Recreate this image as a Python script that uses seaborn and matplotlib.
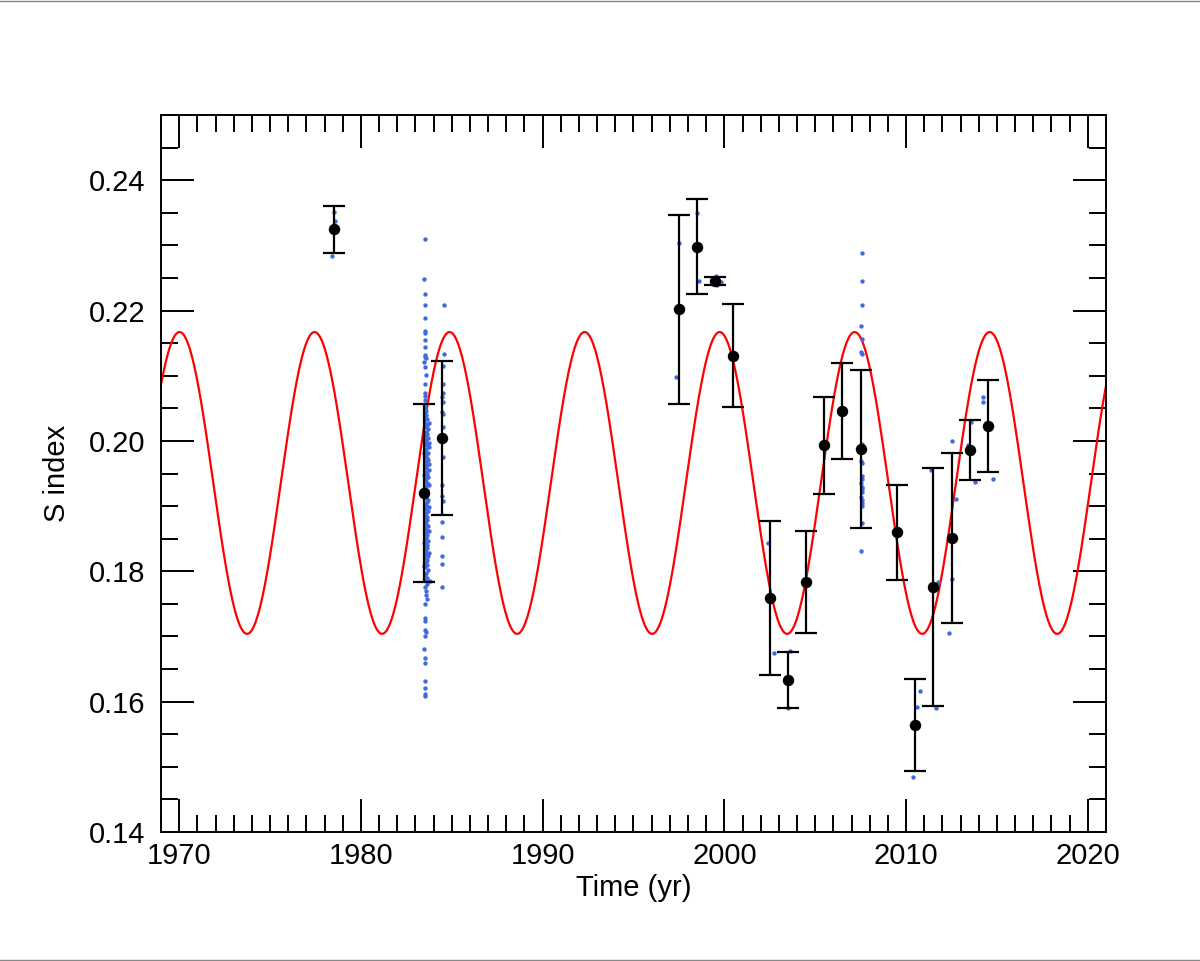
import numpy as np
import pandas as pd
import matplotlib
matplotlib.use("Agg")
import matplotlib.pyplot as plt
from matplotlib.ticker import MultipleLocator
from matplotlib.lines import Line2D
import seaborn as sns

# ---- binned means (black points with error bars) ----
bin_t = [1978.5, 1983.47, 1984.48, 1997.5, 1998.5, 1999.5, 2000.5, 2002.5, 2003.5,
         2004.5, 2005.5, 2006.5, 2007.5, 2009.5, 2010.5, 2011.5, 2012.5, 2013.5, 2014.5]
bin_s = [0.2325, 0.1920, 0.2004, 0.2202, 0.2298, 0.2245, 0.2131, 0.1759, 0.1633,
         0.1784, 0.1993, 0.2046, 0.1988, 0.1860, 0.1564, 0.1776, 0.1851, 0.1986, 0.2023]
bin_err = [0.0036, 0.01365, 0.0118, 0.0145, 0.0073, 0.00065, 0.0079, 0.0118, 0.00425,
           0.0078, 0.0074, 0.00735, 0.01215, 0.0073, 0.0070, 0.0183, 0.0130, 0.0046, 0.0071]

# ---- individual observations (blue dots) as (time, S) ----
obs_1978 = [(1978.50, 0.2351), (1978.55, 0.2338), (1978.43, 0.2283), (1978.49, 0.2325)]

obs_1983 = [
    (1983.52, 0.2309), (1983.48, 0.2248), (1983.51, 0.2226), (1983.51, 0.2209),
    (1983.53, 0.2188), (1983.55, 0.2169), (1983.54, 0.2166), (1983.54, 0.2155),
    (1983.50, 0.2144), (1983.50, 0.2132), (1983.54, 0.2129), (1983.58, 0.2127),
    (1983.49, 0.2121), (1983.52, 0.2114), (1983.58, 0.2101), (1983.51, 0.2088),
    (1983.55, 0.2073), (1983.50, 0.2069), (1983.52, 0.2063), (1983.54, 0.2052),
    (1983.60, 0.2046),
    (1983.58, 0.2040), (1983.52, 0.2036), (1983.66, 0.2033), (1983.55, 0.2028),
    (1983.61, 0.2025), (1983.50, 0.2021), (1983.70, 0.2018), (1983.57, 0.2014),
    (1983.63, 0.2011), (1983.53, 0.2007), (1983.68, 0.2004), (1983.59, 0.2001),
    (1983.51, 0.1998), (1983.64, 0.1996), (1983.56, 0.1993), (1983.72, 0.1990),
    (1983.60, 0.1987), (1983.54, 0.1985), (1983.67, 0.1982), (1983.58, 0.1979),
    (1983.50, 0.1977), (1983.62, 0.1974), (1983.69, 0.1971), (1983.55, 0.1969),
    (1983.60, 0.1966), (1983.65, 0.1963), (1983.52, 0.1961), (1983.58, 0.1958),
    (1983.74, 0.1955), (1983.56, 0.1953), (1983.63, 0.1950), (1983.51, 0.1947),
    (1983.67, 0.1945), (1983.59, 0.1942), (1983.54, 0.1939), (1983.61, 0.1936),
    (1983.70, 0.1934), (1983.57, 0.1931), (1983.52, 0.1928), (1983.64, 0.1925),
    (1983.58, 0.1923), (1983.66, 0.1920), (1983.53, 0.1917), (1983.60, 0.1914),
    (1983.56, 0.1912), (1983.68, 0.1909), (1983.62, 0.1906), (1983.50, 0.1903),
    (1983.58, 0.1901), (1983.64, 0.1898), (1983.55, 0.1895), (1983.71, 0.1892),
    (1983.60, 0.1889), (1983.53, 0.1887), (1983.66, 0.1884), (1983.57, 0.1881),
    (1983.62, 0.1878), (1983.51, 0.1875), (1983.59, 0.1873), (1983.68, 0.1870),
    (1983.55, 0.1867), (1983.63, 0.1864), (1983.58, 0.1861), (1983.52, 0.1858),
    (1983.66, 0.1856), (1983.60, 0.1853), (1983.56, 0.1850), (1983.70, 0.1847),
    (1983.54, 0.1844), (1983.62, 0.1841), (1983.58, 0.1838), (1983.65, 0.1835),
    (1983.51, 0.1832), (1983.60, 0.1829), (1983.56, 0.1826), (1983.67, 0.1823),
    (1983.53, 0.1820), (1983.61, 0.1817), (1983.58, 0.1813), (1983.64, 0.1810),
    (1983.55, 0.1806), (1983.69, 0.1802), (1983.59, 0.1798), (1983.52, 0.1794),
    (1983.63, 0.1790), (1983.57, 0.1786), (1983.66, 0.1781), (1983.54, 0.1776),
    (1983.60, 0.1770), (1983.56, 0.1764), (1983.62, 0.1757), (1983.53, 0.1750),
    (1983.75, 0.2027), (1983.48, 0.2009), (1983.73, 0.1997), (1983.47, 0.1981),
    (1983.76, 0.1964), (1983.49, 0.1948), (1983.74, 0.1932), (1983.47, 0.1915),
    (1983.77, 0.1899), (1983.50, 0.1880), (1983.72, 0.1862), (1983.48, 0.1843),
    (1983.75, 0.1828), (1983.49, 0.1808), (1983.80, 0.1785),
    (1983.52, 0.1728), (1983.55, 0.1723), (1983.51, 0.1710), (1983.58, 0.1707),
    (1983.51, 0.1701), (1983.49, 0.1680), (1983.52, 0.1667), (1983.55, 0.1660),
    (1983.52, 0.1632), (1983.52, 0.1621), (1983.55, 0.1611), (1983.52, 0.1608),
]

obs_1984 = [
    (1984.55, 0.2209), (1984.55, 0.2133), (1984.52, 0.2115), (1984.50, 0.2088),
    (1984.50, 0.2073), (1984.48, 0.2068), (1984.50, 0.2060), (1984.48, 0.2045),
    (1984.51, 0.2042), (1984.49, 0.2022), (1984.48, 0.2001), (1984.50, 0.1976),
    (1984.46, 0.1932), (1984.48, 0.1915), (1984.50, 0.1908), (1984.46, 0.1876),
    (1984.46, 0.1853), (1984.47, 0.1823), (1984.46, 0.1811), (1984.46, 0.1776),
]

obs_late = [
    (1997.51, 0.2304), (1997.35, 0.2098),
    (1998.47, 0.2350), (1998.60, 0.2246),
    (1999.52, 0.2253), (1999.80, 0.2244), (1999.58, 0.2239),
    (2000.52, 0.2131),
    (2002.40, 0.1843), (2002.75, 0.1675),
    (2003.60, 0.1677), (2003.48, 0.1591), (2003.50, 0.1633),
    (2004.52, 0.1784),
    (2005.52, 0.1993),
    (2006.60, 0.2046),
    (2007.55, 0.2288), (2007.55, 0.2246), (2007.55, 0.2209), (2007.50, 0.2176),
    (2007.57, 0.2157), (2007.52, 0.2136), (2007.55, 0.2134), (2007.55, 0.1995),
    (2007.60, 0.1987), (2007.52, 0.1969), (2007.58, 0.1966), (2007.55, 0.1946),
    (2007.60, 0.1941), (2007.52, 0.1936), (2007.58, 0.1930), (2007.55, 0.1926),
    (2007.60, 0.1921), (2007.52, 0.1914), (2007.58, 0.1909), (2007.55, 0.1904),
    (2007.60, 0.1900), (2007.55, 0.1874), (2007.52, 0.1831),
    (2009.55, 0.1860),
    (2010.74, 0.1616), (2010.59, 0.1592), (2010.39, 0.1484),
    (2011.39, 0.1955), (2011.78, 0.1783), (2011.65, 0.1590),
    (2012.54, 0.2000), (2012.72, 0.1911), (2012.54, 0.1788), (2012.35, 0.1706),
    (2013.55, 0.2029), (2013.39, 0.1993), (2013.77, 0.1937),
    (2014.25, 0.2068), (2014.25, 0.2059), (2014.80, 0.1941),
]

# ---- sinusoidal cycle fit (model parameters) ----
cycle_period = 7.43      # yr
cycle_peak_t = 1999.74   # time of a maximum
cycle_mean = 0.19355
cycle_amp = 0.02315

x_limits = (1969.0, 2021.0)
y_limits = (0.14, 0.25)

# ---------------------------------------------------------------
sns.set_theme(style="white")
plt.rcParams["font.family"] = ["Liberation Sans", "DejaVu Sans"]
plt.rcParams["text.color"] = "black"
plt.rcParams["axes.labelcolor"] = "black"
plt.rcParams["xtick.color"] = "black"
plt.rcParams["ytick.color"] = "black"

fig = plt.figure(figsize=(12.0, 9.61), dpi=100)
ax = fig.add_axes([161 / 1200, 1 - 832 / 961, (1106 - 161) / 1200, (832 - 115) / 961])

obs_df = pd.DataFrame(obs_1978 + obs_1983 + obs_1984 + obs_late, columns=["t", "s"])
bins_df = pd.DataFrame({"t": bin_t, "s": bin_s, "err": bin_err})

t_model = np.linspace(x_limits[0], x_limits[1], 2000)
model_df = pd.DataFrame({
    "t": t_model,
    "s": cycle_mean + cycle_amp * np.cos(2 * np.pi * (t_model - cycle_peak_t) / cycle_period),
})

sns.lineplot(data=model_df, x="t", y="s", ax=ax, color="#ff0000", lw=1.6, zorder=2)

sns.scatterplot(data=obs_df, x="t", y="s", ax=ax, color="#4169e1", s=10,
                linewidth=0, zorder=3)

ax.errorbar(bins_df["t"], bins_df["s"], yerr=bins_df["err"], fmt="none",
            ecolor="black", elinewidth=1.6, capsize=8, capthick=1.6, zorder=4)

sns.scatterplot(data=bins_df, x="t", y="s", ax=ax, color="black", s=68,
                linewidth=0, zorder=5)

ax.set_xlim(*x_limits)
ax.set_ylim(*y_limits)

ax.xaxis.set_major_locator(MultipleLocator(10))
ax.xaxis.set_minor_locator(MultipleLocator(1))
ax.yaxis.set_major_locator(MultipleLocator(0.02))
ax.yaxis.set_minor_locator(MultipleLocator(0.005))
ax.yaxis.set_major_formatter(matplotlib.ticker.FormatStrFormatter("%.2f"))

ax.tick_params(which="both", direction="in", top=True, right=True, bottom=True,
               left=True, color="black", labelcolor="black", width=1.4)
ax.tick_params(which="major", length=24)
ax.tick_params(which="minor", length=12.5)
ax.tick_params(axis="x", which="major", labelsize=21, pad=7)
ax.tick_params(axis="y", which="major", labelsize=21, pad=11)

for sp in ax.spines.values():
    sp.set_color("black")
    sp.set_linewidth(1.4)

ax.set_xlabel("Time (yr)", fontsize=21, labelpad=3, color="black")
ax.set_ylabel("S index", fontsize=21, labelpad=13, color="black")

# thin grey frame lines at top and bottom of the image
fig.add_artist(Line2D([0, 1], [1 - 1 / 961, 1 - 1 / 961], transform=fig.transFigure,
                      color="#888888", lw=1))
fig.add_artist(Line2D([0, 1], [1.5 / 961, 1.5 / 961], transform=fig.transFigure,
                      color="#888888", lw=1))

fig.savefig("out.png", dpi=100)
